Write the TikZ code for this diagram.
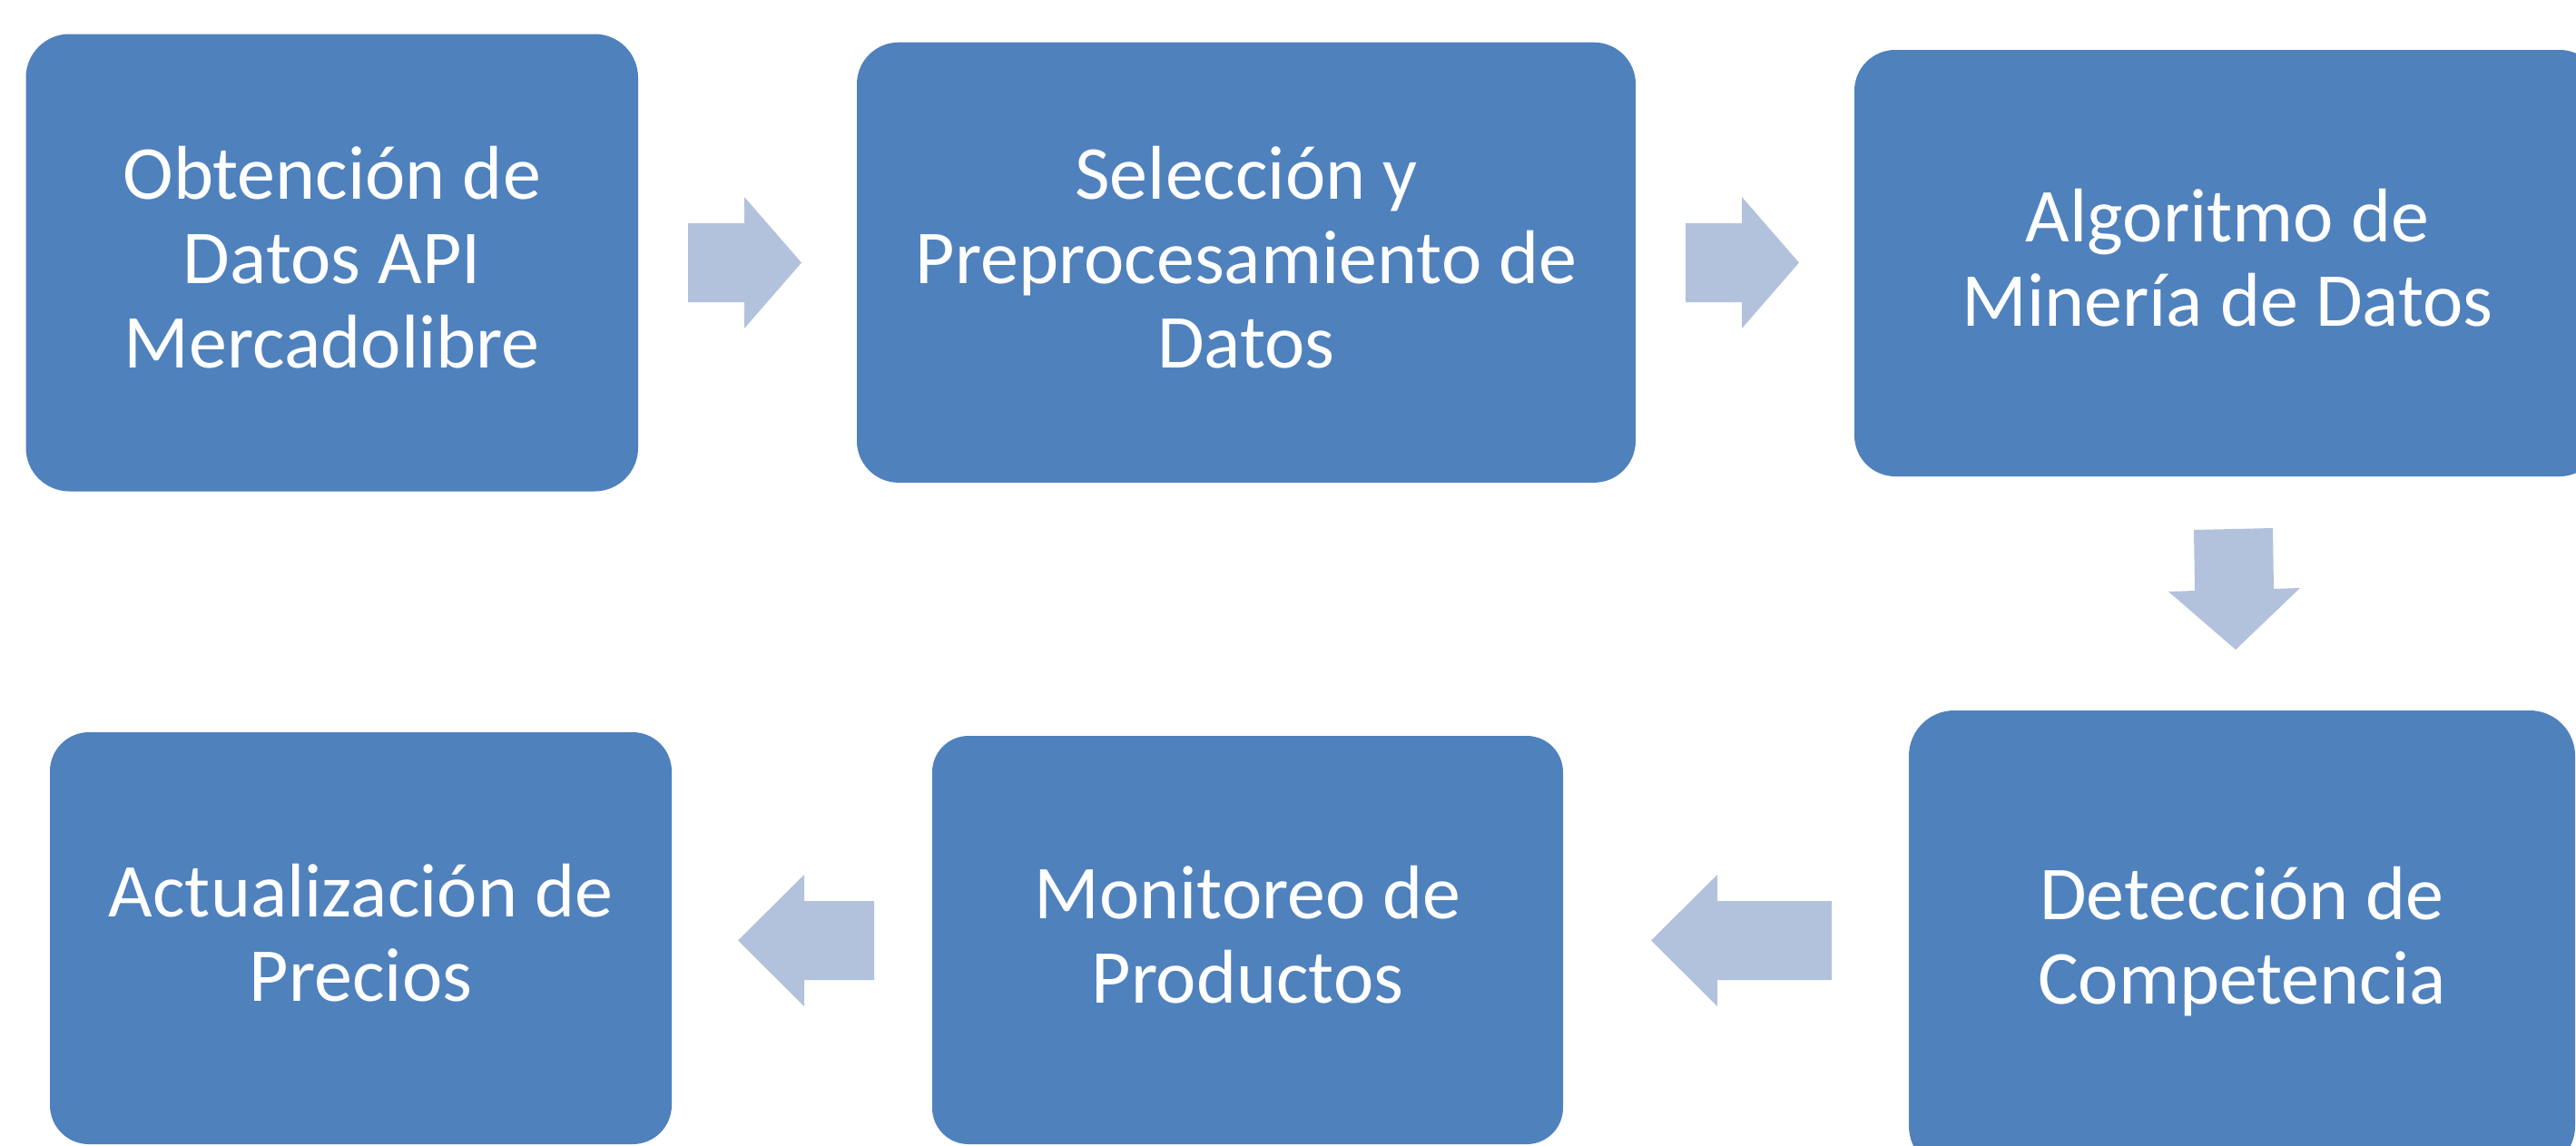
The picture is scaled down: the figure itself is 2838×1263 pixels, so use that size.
\documentclass[tikz,border=0pt]{standalone}
\usepackage{fontspec}
\setmainfont{Carlito}
\definecolor{boxblue}{RGB}{79,129,189}
\definecolor{arrowblue}{RGB}{178,194,220}
\newcommand\lnA{\rule{0pt}{0.8em}}
\newcommand\lnB{\rule[-0.25em]{0pt}{0.25em}}
\begin{document}
\begin{tikzpicture}[x=0.25pt,y=-0.25pt,
  stepbox/.style={fill=boxblue, text=white, align=center, inner sep=0pt,
    font=\fontsize{21pt}{23.25pt}\selectfont},
  flowarrow/.style={fill=arrowblue, draw=none}]
\useasboundingbox (0,0) rectangle (2838,1263);
\clip (0,0) rectangle (2838,1263);
% boxes
\node[stepbox, minimum width=168.625pt, minimum height=126pt, rounded corners=12pt]
  (b1) at (365.75,289.5) {\lnA Obtención de\\Datos API\\Mercadolibre\lnB};
\node[stepbox, minimum width=214.5pt, minimum height=121.3pt, rounded corners=11.5pt]
  (b2) at (1373,289.3) {\lnA Selección y\\Preprocesamiento de\\Datos\lnB};
\node[stepbox, minimum width=205.5pt, minimum height=117.5pt, rounded corners=11.25pt]
  (b3) at (2454,290) {\lnA Algoritmo de\\Minería de Datos\lnB};
\node[stepbox, minimum width=183.5pt, minimum height=127pt, rounded corners=12.5pt]
  (b4) at (2470,1037) {\lnA Detección de\\Competencia\lnB};
\node[stepbox, minimum width=173.75pt, minimum height=112.5pt, rounded corners=10pt]
  (b5) at (1374.5,1036) {\lnA Monitoreo de\\Productos\lnB};
\node[stepbox, minimum width=171.25pt, minimum height=113.5pt, rounded corners=10.75pt]
  (b6) at (397.5,1034) {\lnA Actualización de\\Precios\lnB};
% block arrows
\path[flowarrow] (758,246) -- (820,246) -- (820,217) -- (883,289.5) -- (820,362) -- (820,333) -- (758,333) -- cycle;
\path[flowarrow] (1857,246) -- (1919,246) -- (1919,217) -- (1982,289.5) -- (1919,362) -- (1919,333) -- (1857,333) -- cycle;
\path[flowarrow] (2417,584) -- (2504,582) -- (2505,649) -- (2534,648) -- (2463,716) -- (2389,652) -- (2418,651) -- cycle;
\path[flowarrow] (2018,993) -- (1892,993) -- (1892,964) -- (1819,1036.5) -- (1892,1109) -- (1892,1080) -- (2018,1080) -- cycle;
\path[flowarrow] (963,993) -- (886,993) -- (886,964) -- (813,1036.5) -- (886,1109) -- (886,1080) -- (963,1080) -- cycle;
\end{tikzpicture}
\end{document}
